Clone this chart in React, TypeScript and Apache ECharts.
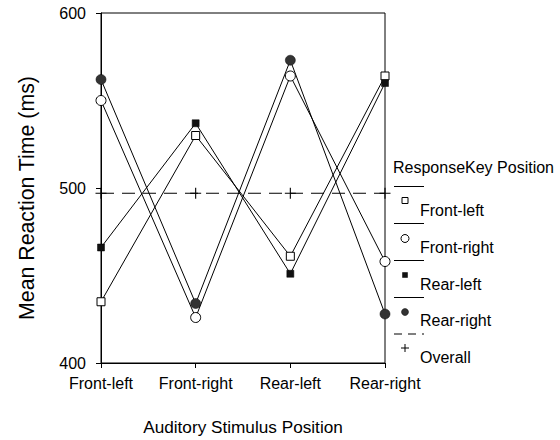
import React, { useEffect, useRef } from "react";
import * as echarts from "echarts";

const categories = ["Front-left", "Front-right", "Rear-left", "Rear-right"];
const frontLeft = [435, 530, 461, 564];
const frontRight = [550, 426, 564, 458];
const rearLeft = [466, 537, 451, 560];
const rearRight = [562, 434, 573, 428];
const overall = [497, 497, 497, 497];
const yTicks = [400, 500, 600];
const legendTitle = "ResponseKey Position";
const legendNames = ["Front-left", "Front-right", "Rear-left", "Rear-right", "Overall"];
const xTitle = "Auditory Stimulus Position";
const yTitle = "Mean Reaction Time (ms)";

const FONT = "'Liberation Sans', Arial, sans-serif";
const PLUS = "path://M4.5,0h1v10h-1z M0,4.5h10v1h-10z";

export default function App() {
  const ref = useRef<HTMLDivElement>(null);
  useEffect(() => {
    if (!ref.current) return;
    const chart = echarts.init(ref.current, null, { renderer: "svg" });
    const base = {
      type: "line",
      lineStyle: { color: "#000", width: 1 },
      emphasis: { disabled: true },
      z: 3,
    };
    const lx0 = 394;
    const lx1 = 424;
    const rows = [186.5, 223.5, 260.5, 297.5, 334];
    const markerY = [200.5, 238.5, 275, 312, 348];
    const labelY = [210, 247, 284, 320.5, 357];
    const graphic: any[] = [
      {
        type: "text",
        x: 393,
        y: 167,
        style: {
          text: legendTitle,
          font: `16px ${FONT}`,
          fill: "#000",
          verticalAlign: "middle",
        },
      },
      {
        type: "text",
        x: 27,
        y: 198,
        rotation: Math.PI / 2,
        style: {
          text: yTitle,
          font: `21.3px ${FONT}`,
          fill: "#000",
          align: "center",
          verticalAlign: "middle",
        },
      },
      {
        type: "text",
        x: 243,
        y: 427,
        style: {
          text: xTitle,
          font: `17.2px ${FONT}`,
          fill: "#000",
          align: "center",
          verticalAlign: "middle",
        },
      },
    ];
    rows.forEach((y, i) => {
      graphic.push({
        type: "line",
        shape: { x1: lx0, y1: y, x2: lx1, y2: y },
        style: { stroke: "#000", lineWidth: 1, lineDash: i === 4 ? [8, 6] : null },
      });
      graphic.push({
        type: "text",
        x: 420,
        y: labelY[i],
        style: {
          text: legendNames[i],
          font: `16px ${FONT}`,
          fill: "#000",
          verticalAlign: "middle",
        },
      });
    });
    graphic.push({
      type: "rect",
      shape: { x: 402, y: markerY[0] - 3, width: 6, height: 6 },
      style: { fill: "#fff", stroke: "#000", lineWidth: 1 },
    });
    graphic.push({
      type: "circle",
      shape: { cx: 405, cy: markerY[1], r: 4 },
      style: { fill: "#fff", stroke: "#000", lineWidth: 1 },
    });
    graphic.push({
      type: "rect",
      shape: { x: 402.5, y: markerY[2] - 2.5, width: 5, height: 5 },
      style: { fill: "#111", stroke: "#000", lineWidth: 0.5 },
    });
    graphic.push({
      type: "circle",
      shape: { cx: 405, cy: markerY[3], r: 3.5 },
      style: { fill: "#333", stroke: "#000", lineWidth: 0.5 },
    });
    graphic.push({
      type: "line",
      shape: { x1: 401, y1: markerY[4], x2: 409, y2: markerY[4] },
      style: { stroke: "#000", lineWidth: 1 },
    });
    graphic.push({
      type: "line",
      shape: { x1: 405, y1: markerY[4] - 4, x2: 405, y2: markerY[4] + 4 },
      style: { stroke: "#000", lineWidth: 1 },
    });

    chart.setOption({
      animation: false,
      grid: {
        left: 101,
        right: 175,
        top: 13,
        bottom: 77,
        show: true,
        borderColor: "#000",
        borderWidth: 1,
        backgroundColor: "transparent",
      },
      xAxis: {
        type: "category",
        data: categories,
        boundaryGap: false,
        axisLine: { lineStyle: { color: "#000", width: 1 } },
        axisTick: { show: true, length: 5, interval: 0, lineStyle: { color: "#000" } },
        axisLabel: {
          fontSize: 16,
          color: "#000",
          fontFamily: FONT,
          margin: 12,
          interval: 0,
          hideOverlap: false,
        },
        splitLine: { show: false },
      },
      yAxis: {
        type: "value",
        min: yTicks[0],
        max: yTicks[yTicks.length - 1],
        interval: 100,
        axisLine: { show: true, lineStyle: { color: "#000", width: 1 } },
        axisTick: { show: true, length: 5, lineStyle: { color: "#000" } },
        axisLabel: { fontSize: 16, color: "#000", fontFamily: FONT, margin: 15 },
        splitLine: { show: false },
      },
      graphic,
      series: [
        {
          ...base,
          name: "Front-left",
          data: frontLeft,
          symbol: "rect",
          symbolSize: 8,
          itemStyle: { color: "#fff", borderColor: "#000", borderWidth: 1 },
        },
        {
          ...base,
          name: "Front-right",
          data: frontRight,
          symbol: "circle",
          symbolSize: 10,
          itemStyle: { color: "#fff", borderColor: "#000", borderWidth: 1 },
        },
        {
          ...base,
          name: "Rear-left",
          data: rearLeft,
          symbol: "rect",
          symbolSize: 7,
          itemStyle: { color: "#111", borderColor: "#000", borderWidth: 0.5 },
        },
        {
          ...base,
          name: "Rear-right",
          data: rearRight,
          symbol: "circle",
          symbolSize: 10,
          itemStyle: { color: "#333", borderColor: "#000", borderWidth: 0.5 },
        },
        {
          ...base,
          name: "Overall",
          data: overall,
          symbol: PLUS,
          symbolSize: 11,
          lineStyle: { color: "#000", width: 1, type: [13, 8] },
          itemStyle: { color: "#000" },
        },
      ],
    });
    return () => chart.dispose();
  }, []);
  return (
    <div
      ref={ref}
      style={{ position: "absolute", left: 0, top: 0, width: 560, height: 440 }}
    />
  );
}
